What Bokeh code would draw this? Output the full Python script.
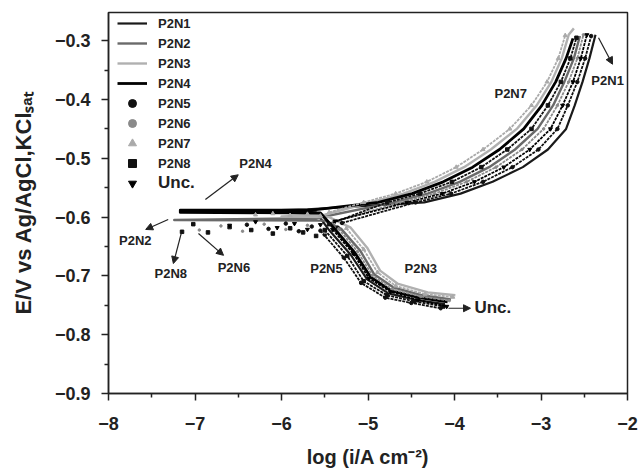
from bokeh.plotting import figure
from bokeh.models import (Range1d, FixedTicker, Label, Arrow, NormalHead, Legend,
                          LegendItem, CustomJSTickFormatter)
from bokeh.embed import file_html
from bokeh.resources import INLINE

FONT = "Liberation Sans"

# ---------------- data ----------------
x_ticks = [-8, -7, -6, -5, -4, -3, -2]
x_minor = [-7.5, -6.5, -5.5, -4.5, -3.5, -2.5]
y_ticks = [-0.9, -0.8, -0.7, -0.6, -0.5, -0.4, -0.3]
y_minor = [-0.85, -0.75, -0.65, -0.55, -0.45, -0.35, -0.25]

# P2N1 (black line)
p2n1_cath_logi = [-5.45, -5.20, -5.01, -4.76, -4.44, -4.11]
p2n1_cath_E = [-0.622, -0.664, -0.706, -0.730, -0.741, -0.748]
p2n1_spike_logi = [-5.60, -6.50, -5.70]
p2n1_spike_E = [-0.592, -0.590, -0.587]
p2n1_anod_logi = [-4.35, -3.93, -3.56, -3.21, -2.92, -2.71, -2.61, -2.52, -2.44, -2.37]
p2n1_anod_E = [-0.575, -0.560, -0.540, -0.515, -0.485, -0.450, -0.410, -0.370, -0.330, -0.290]

# P2N2 (dark grey line)
p2n2_cath_logi = [-5.31, -5.09, -4.93, -4.70, -4.37, -4.04]
p2n2_cath_E = [-0.620, -0.657, -0.697, -0.720, -0.733, -0.740]
p2n2_spike_logi = [-5.50, -7.24, -5.60]
p2n2_spike_E = [-0.606, -0.605, -0.602]
p2n2_anod_logi = [-4.70, -4.31, -3.94, -3.60, -3.30, -3.04, -2.86, -2.73, -2.62, -2.55]
p2n2_anod_E = [-0.575, -0.560, -0.540, -0.515, -0.485, -0.450, -0.410, -0.370, -0.330, -0.292]

# P2N3 (light grey line)
p2n3_cath_logi = [-5.20, -5.01, -4.86, -4.66, -4.31, -3.99]
p2n3_cath_E = [-0.618, -0.652, -0.691, -0.713, -0.728, -0.733]
p2n3_spike_logi = [-5.45, -6.00, -5.50]
p2n3_spike_E = [-0.600, -0.599, -0.596]
p2n3_anod_logi = [-4.97, -4.59, -4.23, -3.89, -3.58, -3.28, -3.05, -2.88, -2.76, -2.68, -2.62]
p2n3_anod_E = [-0.575, -0.560, -0.540, -0.515, -0.485, -0.450, -0.410, -0.370, -0.330, -0.290, -0.279]

# P2N4 (black line)
p2n4_cath_logi = [-5.38, -5.15, -4.97, -4.73, -4.41, -4.08]
p2n4_cath_E = [-0.621, -0.661, -0.702, -0.725, -0.737, -0.744]
p2n4_spike_logi = [-5.55, -7.17, -7.17, -5.65]
p2n4_spike_E = [-0.593, -0.592, -0.588, -0.588]
p2n4_anod_logi = [-4.88, -4.49, -4.13, -3.79, -3.48, -3.20, -2.99, -2.83, -2.71, -2.63]
p2n4_anod_E = [-0.575, -0.560, -0.540, -0.515, -0.485, -0.450, -0.410, -0.370, -0.330, -0.296]

# P2N5 (black dots)
p2n5_cath_logi = [-5.55, -5.28, -5.08, -4.80, -4.50, -4.16]
p2n5_cath_E = [-0.623, -0.669, -0.712, -0.737, -0.746, -0.755]
p2n5_spike_logi = [-6.40, -6.15, -5.95, -5.80, -5.65, -5.50, -5.35]
p2n5_spike_E = [-0.613, -0.620, -0.611, -0.624, -0.616, -0.630, -0.618]
p2n5_anod_logi = [-5.30, -4.45, -4.04, -3.67, -3.33, -3.03, -2.81, -2.69, -2.58, -2.49, -2.42]
p2n5_anod_E = [-0.610, -0.575, -0.560, -0.540, -0.515, -0.485, -0.450, -0.410, -0.370, -0.330, -0.292]

# P2N6 (small grey dots)
p2n6_cath_logi = [-5.34, -5.12, -4.95, -4.72, -4.39, -4.06]
p2n6_cath_E = [-0.620, -0.659, -0.699, -0.723, -0.735, -0.742]
p2n6_spike_logi = [-6.95, -6.70, -6.45, -6.20, -5.95, -5.70, -5.50]
p2n6_spike_E = [-0.622, -0.615, -0.624, -0.612, -0.621, -0.614, -0.626]
p2n6_anod_logi = [-5.40, -4.63, -4.23, -3.86, -3.52, -3.22, -2.97, -2.81, -2.68, -2.58, -2.51]
p2n6_anod_E = [-0.608, -0.575, -0.560, -0.540, -0.515, -0.485, -0.450, -0.410, -0.370, -0.330, -0.290]

# P2N7 (grey triangles)
p2n7_cath_logi = [-5.25, -5.05, -4.89, -4.68, -4.34, -4.02]
p2n7_cath_E = [-0.619, -0.655, -0.694, -0.717, -0.731, -0.736]
p2n7_spike_logi = [-6.30, -6.10, -5.90, -5.70, -5.55]
p2n7_spike_E = [-0.596, -0.594, -0.597, -0.595, -0.598]
p2n7_anod_logi = [-5.45, -5.05, -4.68, -4.32, -3.98, -3.67, -3.36, -3.11, -2.93, -2.80, -2.72]
p2n7_anod_E = [-0.592, -0.575, -0.560, -0.540, -0.515, -0.485, -0.450, -0.410, -0.370, -0.330, -0.291]

# P2N8 (black dots)
p2n8_cath_logi = [-5.50, -5.24, -5.05, -4.78, -4.47, -4.13]
p2n8_cath_E = [-0.622, -0.666, -0.709, -0.733, -0.743, -0.752]
p2n8_spike_logi = [-7.15, -7.02, -6.85, -6.60, -6.35, -6.10, -5.90, -5.75, -5.60]
p2n8_spike_E = [-0.625, -0.612, -0.626, -0.617, -0.622, -0.628, -0.619, -0.626, -0.632]
p2n8_anod_logi = [-5.45, -4.78, -4.40, -4.03, -3.69, -3.39, -3.11, -2.92, -2.77, -2.66, -2.59]
p2n8_anod_E = [-0.612, -0.575, -0.560, -0.540, -0.515, -0.485, -0.450, -0.410, -0.370, -0.330, -0.295]

# Unc. (black dots)
unc_cath_logi = [-5.41, -5.17, -4.99, -4.74, -4.42, -4.09]
unc_cath_E = [-0.621, -0.662, -0.704, -0.727, -0.741, -0.752]
unc_spike_logi = [-6.60, -6.30, -6.05, -5.85, -5.70, -5.55]
unc_spike_E = [-0.614, -0.608, -0.618, -0.611, -0.621, -0.613]
unc_anod_logi = [-5.38, -4.55, -4.14, -3.77, -3.43, -3.13, -2.89, -2.75, -2.63, -2.54, -2.47]
unc_anod_E = [-0.607, -0.575, -0.560, -0.540, -0.515, -0.485, -0.450, -0.410, -0.370, -0.330, -0.290]

# in-plot labels
note_text = ["P2N4", "P2N2", "P2N8", "P2N6", "P2N5", "P2N3", "P2N7", "P2N1"]
note_logi = [-6.30, -7.69, -7.28, -6.55, -5.48, -4.39, -3.35, -2.23]
note_E = [-0.509, -0.640, -0.696, -0.686, -0.687, -0.687, -0.390, -0.368]
arrow_from_logi = [-6.88, -7.31, -7.16, -6.96, -4.07, -2.335]
arrow_from_E = [-0.570, -0.604, -0.628, -0.628, -0.755, -0.295]
arrow_to_logi = [-6.50, -7.57, -7.25, -6.67, -3.815, -2.173]
arrow_to_E = [-0.528, -0.621, -0.679, -0.665, -0.755, -0.340]

x_title = "log (i/A cm\u207b\u00b2)"
y_title = "E/V vs Ag/AgCl,KCl\u209b\u2090\u209c"

# ---------------- figure ----------------
p = figure(width=638, height=470, output_backend="svg", toolbar_location=None,
           x_range=Range1d(-8, -2), y_range=Range1d(-0.9, -0.252),
           min_border_left=108, min_border_right=11, min_border_top=12,
           min_border_bottom=77)
p.background_fill_color = "white"
p.border_fill_color = "white"
p.outline_line_color = "#222222"
p.outline_line_width = 1.5
p.xgrid.visible = False
p.ygrid.visible = False

for ax, ticks, minor, digits in ((p.xaxis[0], x_ticks, x_minor, 0), (p.yaxis[0], y_ticks, y_minor, 1)):
    ax.ticker = FixedTicker(ticks=ticks, minor_ticks=minor)
    ax.formatter = CustomJSTickFormatter(
        code="return (tick < 0 ? '\u2212' : '') + Math.abs(tick).toFixed(%d);" % digits)
    ax.major_tick_out = 7
    ax.major_tick_in = 0
    ax.minor_tick_out = 4
    ax.minor_tick_in = 0
    ax.axis_line_width = 1.5
    ax.axis_line_color = "#222222"
    ax.major_tick_line_width = 1.5
    ax.minor_tick_line_width = 1.5
    ax.major_tick_line_color = "#222222"
    ax.minor_tick_line_color = "#222222"
    ax.major_label_text_font = FONT
    ax.major_label_text_font_style = "bold"
    ax.major_label_text_font_size = "18px"
    ax.major_label_text_color = "#222222"
    ax.axis_label_text_font = FONT
    ax.axis_label_text_font_style = "bold"
    ax.axis_label_text_color = "#222222"
p.xaxis[0].major_label_standoff = 16
p.yaxis[0].major_label_standoff = 11
p.xaxis[0].axis_label = x_title
p.xaxis[0].axis_label_text_font_size = "20px"
p.xaxis[0].axis_label_standoff = 13
p.yaxis[0].axis_label = y_title
p.yaxis[0].axis_label_text_font_size = "22px"
p.yaxis[0].axis_label_standoff = 16

line_specs = [
    ("P2N1", "#1a1a1a", 2.2, p2n1_cath_logi, p2n1_cath_E, p2n1_spike_logi, p2n1_spike_E, p2n1_anod_logi, p2n1_anod_E),
    ("P2N2", "#6a6a6a", 2.4, p2n2_cath_logi, p2n2_cath_E, p2n2_spike_logi, p2n2_spike_E, p2n2_anod_logi, p2n2_anod_E),
    ("P2N3", "#b0b0b0", 2.4, p2n3_cath_logi, p2n3_cath_E, p2n3_spike_logi, p2n3_spike_E, p2n3_anod_logi, p2n3_anod_E),
    ("P2N4", "#000000", 2.8, p2n4_cath_logi, p2n4_cath_E, p2n4_spike_logi, p2n4_spike_E, p2n4_anod_logi, p2n4_anod_E),
]
dot_specs = [
    ("P2N5", "#111111", "circle", 3.5, p2n5_cath_logi, p2n5_cath_E, p2n5_spike_logi, p2n5_spike_E, p2n5_anod_logi, p2n5_anod_E),
    ("P2N6", "#8a8a8a", "circle", 2.5, p2n6_cath_logi, p2n6_cath_E, p2n6_spike_logi, p2n6_spike_E, p2n6_anod_logi, p2n6_anod_E),
    ("P2N7", "#aaaaaa", "triangle", 4, p2n7_cath_logi, p2n7_cath_E, p2n7_spike_logi, p2n7_spike_E, p2n7_anod_logi, p2n7_anod_E),
    ("P2N8", "#111111", "square", 3.5, p2n8_cath_logi, p2n8_cath_E, p2n8_spike_logi, p2n8_spike_E, p2n8_anod_logi, p2n8_anod_E),
    ("Unc.", "#000000", "inverted_triangle", 4, unc_cath_logi, unc_cath_E, unc_spike_logi, unc_spike_E, unc_anod_logi, unc_anod_E),
]

legend_renderers = {}
for name, color, lw, cx, cy, sx, sy, ax_, ay in line_specs:
    xs = list(reversed(cx)) + sx + ax_
    ys = list(reversed(cy)) + sy + ay
    r = p.line(xs, ys, line_color=color, line_width=lw, line_join="round")
    legend_renderers[name] = r

for name, color, marker, size, cx, cy, sx, sy, ax_, ay in dot_specs:
    p.line(cx, cy, line_color=color, line_width=1.8, line_dash="3 1")
    p.line(ax_, ay, line_color=color, line_width=1.8, line_dash="3 1")
    r = p.scatter(cx + sx + ax_, cy + sy + ay, marker=marker, size=size,
                  fill_color=color, line_color=color)
    legend_renderers[name] = r

legend1 = Legend(items=[LegendItem(label=n, renderers=[legend_renderers[n]])
                        for n in ["P2N1", "P2N2", "P2N3", "P2N4", "P2N5", "P2N6", "P2N7", "P2N8"]],
                 location=(6, 217))
legend2 = Legend(items=[LegendItem(label="Unc.", renderers=[legend_renderers["Unc."]])],
                 location=(6, 197))
for lg, fs in ((legend1, "13px"), (legend2, "17px")):
    lg.label_text_font = FONT
    lg.label_text_font_style = "bold"
    lg.label_text_font_size = fs
    lg.label_text_color = "#222222"
    lg.label_height = 20
    lg.glyph_height = 20
    lg.glyph_width = 30
    lg.label_standoff = 11
    lg.spacing = 0
    lg.padding = 3
    lg.margin = 0
    lg.border_line_alpha = 0
    lg.background_fill_alpha = 0
    p.add_layout(lg)

for t, xx, yy in zip(note_text, note_logi, note_E):
    p.add_layout(Label(x=xx, y=yy, text=t, text_font=FONT, text_font_style="bold",
                       text_font_size="13px", text_color="#222222",
                       text_align="center", text_baseline="middle"))
p.add_layout(Label(x=-3.77, y=-0.754, text="Unc.", text_font=FONT, text_font_style="bold",
                   text_font_size="17px", text_color="#222222",
                   text_align="left", text_baseline="middle"))

for x0, y0, x1, y1 in zip(arrow_from_logi, arrow_from_E, arrow_to_logi, arrow_to_E):
    p.add_layout(Arrow(end=NormalHead(size=7, fill_color="#222222", line_color="#222222"),
                       x_start=x0, y_start=y0, x_end=x1, y_end=y1,
                       line_color="#222222", line_width=1.2))

open("out.html", "w").write(file_html(p, INLINE))
